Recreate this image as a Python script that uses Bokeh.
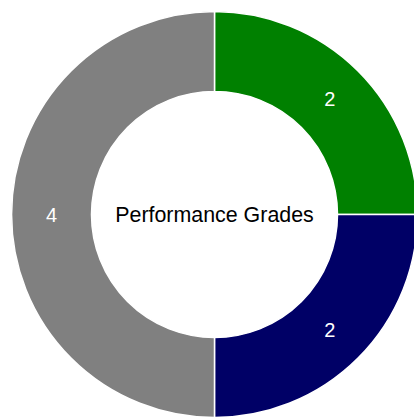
import math
from bokeh.plotting import figure
from bokeh.models import Range1d, ColumnDataSource
from bokeh.core.properties import value
from bokeh.embed import file_html
from bokeh.resources import INLINE

categories = ["A", "B", "C"]
counts = [2, 2, 4]
colors = ["#008000", "#000066", "#808080"]
center_title = "Performance Grades"

total = sum(counts)
starts, ends, mids = [], [], []
cum = 0.0
for c in counts:
    a0 = math.pi / 2 - 2 * math.pi * cum / total
    cum += c
    a1 = math.pi / 2 - 2 * math.pi * cum / total
    starts.append(a0)
    ends.append(a1)
    mids.append((a0 + a1) / 2)

r_in, r_out = 123, 203
r_lab = (r_in + r_out) / 2
src = ColumnDataSource(dict(
    cat=categories, count=counts, color=colors,
    start=starts, end=ends,
    lx=[r_lab * math.cos(m) for m in mids],
    ly=[r_lab * math.sin(m) for m in mids],
    txt=[str(c) for c in counts],
))

p = figure(width=414, height=418, output_backend="svg", toolbar_location=None,
           x_range=Range1d(-214, 200), y_range=Range1d(-204, 214),
           min_border=0)
p.axis.visible = False
p.grid.visible = False
p.outline_line_color = None
p.background_fill_color = "white"

p.annular_wedge(x=0, y=0, inner_radius=r_in, outer_radius=r_out,
                start_angle="start", end_angle="end", direction="clock",
                fill_color="color", line_color="white", line_width=1.5,
                source=src)

p.text(x="lx", y="ly", text="txt", source=src, text_color="white",
       text_font=value("Liberation Sans"), text_font_size="20px",
       text_align="center", text_baseline="middle")

p.text(x=[0], y=[0], text=[center_title], text_color="black",
       text_font=value("Liberation Sans"), text_font_size="21.4px",
       text_align="center", text_baseline="middle")

open("out.html", "w").write(file_html(p, INLINE))
